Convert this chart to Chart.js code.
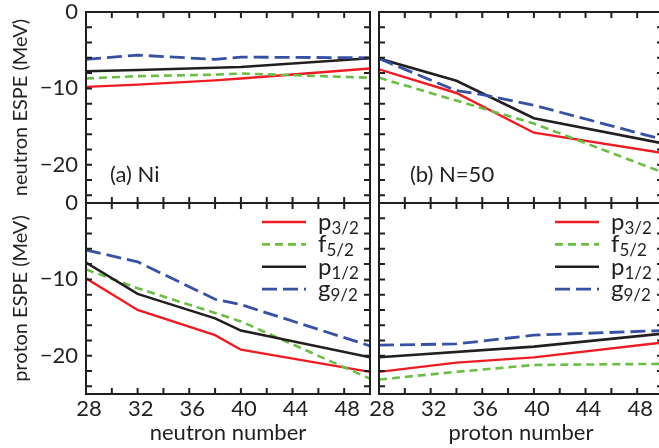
<!DOCTYPE html>
<html lang="en">
<head>
    <meta charset="UTF-8">
    <title>ESPE Ni / N=50</title>
    <script src="https://cdn.jsdelivr.net/npm/chart.js@4.4.1/dist/chart.umd.min.js"></script>
    <style>
        html, body {
            margin: 0;
            padding: 0;
            width: 659px;
            height: 448px;
            overflow: hidden;
            background: #fff;
        }
        canvas {
            position: absolute;
            left: 0;
            top: 0;
        }
    </style>
</head>
<body>
    <canvas id="panelA" width="665" height="448"></canvas>
    <canvas id="panelB" width="665" height="448"></canvas>
    <canvas id="panelC" width="665" height="448"></canvas>
    <canvas id="panelD" width="665" height="448"></canvas>

    <script>
        // nucleon number on the x axis (neutrons for Ni, protons for N=50)
        const nucleonNumber = [28, 32, 34, 36, 38, 40, 50];
        const xTicks = [28, 32, 36, 40, 44, 48];
        const yTicks = [0, -10, -20];

        // orbit names, legend order
        const orbitLetter = ['p', 'f', 'p', 'g'];
        const orbitJ = ['3/2', '5/2', '1/2', '9/2'];

        // (a) Ni, neutron ESPE (MeV) - null = no kink there, line is spanned
        const niNeutronP32 = [-9.8, -9.5, null, null, -8.95, -8.7, -7.4];
        const niNeutronF52 = [-8.7, -8.4, null, null, -8.2, -8.05, -8.6];
        const niNeutronP12 = [-7.75, -7.6, null, null, -7.3, -7.2, -6.05];
        const niNeutronG92 = [-6.2, -5.65, null, null, -6.2, -5.9, -6.0];

        // (b) N=50, neutron ESPE
        const n50NeutronP32 = [-7.5, null, -10.6, null, null, -15.8, -18.45];
        const n50NeutronF52 = [-8.6, null, null, null, null, -14.6, -21.0];
        const n50NeutronP12 = [-6.1, null, -9.0, null, null, -13.9, -17.2];
        const n50NeutronG92 = [-6.1, null, -10.3, -10.8, null, -12.2, -16.7];

        // Ni, proton ESPE
        const niProtonP32 = [-9.85, -14.0, null, null, -17.3, -19.2, -22.1];
        const niProtonF52 = [-8.7, -11.15, null, null, -14.4, -15.5, -23.0];
        const niProtonP12 = [-7.8, -11.9, null, null, -15.1, -16.7, -20.2];
        const niProtonG92 = [-6.15, -7.7, null, null, -12.6, -13.3, -18.7];

        // N=50, proton ESPE
        const n50ProtonP32 = [-22.1, null, -20.9, null, null, -20.2, -18.25];
        const n50ProtonF52 = [-23.1, null, -22.1, null, null, -21.2, -21.05];
        const n50ProtonP12 = [-20.2, null, null, null, null, -18.8, -17.1];
        const n50ProtonG92 = [-18.6, null, -18.45, null, null, -17.3, -16.7];

        const ink = '#231f20';
        const fontName = 'Lato';
        const lineStyle = [
            { color: '#ed1c24', width: 2.4, dash: [] },
            { color: '#6cbd45', width: 2.6, dash: [8, 5] },
            { color: '#231f20', width: 2.6, dash: [] },
            { color: '#3651a3', width: 2.8, dash: [15, 6] }
        ];

        function minus(v) {
            return v < 0 ? '\u2212' + Math.abs(v) : String(v);
        }

        // frame + inward ticks, panel tag and legend
        const decor = {
            id: 'decor',
            afterDatasetsDraw(chart, args, o) {
                const { ctx, chartArea: a, scales: { x, y } } = chart;
                ctx.save();
                ctx.strokeStyle = ink;
                ctx.lineWidth = 2;
                ctx.setLineDash([]);
                ctx.strokeRect(a.left, a.top, a.right - a.left, a.bottom - a.top);
                ctx.beginPath();
                for (let v = x.min + 2; v < x.max; v += 2) {
                    const px = x.getPixelForValue(v);
                    ctx.moveTo(px, a.top); ctx.lineTo(px, a.top + 6);
                    ctx.moveTo(px, a.bottom); ctx.lineTo(px, a.bottom - 6);
                }
                for (let v = y.min + 1; v < y.max; v += 2) {
                    const py = y.getPixelForValue(v);
                    ctx.moveTo(a.left, py); ctx.lineTo(a.left + 6, py);
                    ctx.moveTo(a.right, py); ctx.lineTo(a.right - 6, py);
                }
                ctx.stroke();

                ctx.fillStyle = ink;
                ctx.textBaseline = 'alphabetic';
                if (o.tag) {
                    ctx.font = '22px ' + fontName;
                    ctx.fillText(o.tag, a.left + o.tagX, a.top + 170);
                }
                if (o.legend) {
                    orbitLetter.forEach((letter, i) => {
                        const ly = a.top + 19 + i * 22.4;
                        const st = lineStyle[i];
                        ctx.beginPath();
                        ctx.strokeStyle = st.color;
                        ctx.lineWidth = st.width;
                        ctx.setLineDash(st.dash);
                        ctx.moveTo(a.right - 108, ly);
                        ctx.lineTo(a.right - 64, ly);
                        ctx.stroke();
                        ctx.setLineDash([]);
                        ctx.font = '24px ' + fontName;
                        ctx.fillText(letter, a.right - 52, ly + 8);
                        const w = ctx.measureText(letter).width;
                        ctx.font = '17px ' + fontName;
                        ctx.fillText(orbitJ[i], a.right - 52 + w, ly + 12);
                    });
                }
                ctx.restore();
            }
        };

        function panel(id, series, o) {
            const font = { family: fontName, size: 22 };
            const titleFont = { family: fontName, size: 20 };
            return new Chart(document.getElementById(id), {
                type: 'line',
                data: {
                    labels: nucleonNumber,
                    datasets: series.map((s, i) => ({
                        data: nucleonNumber.map((n, k) => ({ x: n, y: s[k] })),
                        borderColor: lineStyle[i].color,
                        borderWidth: lineStyle[i].width,
                        borderDash: lineStyle[i].dash,
                        pointRadius: 0,
                        tension: 0,
                        spanGaps: true,
                        fill: false
                    })).reverse()
                },
                plugins: [decor],
                options: {
                    responsive: false,
                    animation: false,
                    events: [],
                    layout: { padding: o.pad },
                    plugins: {
                        legend: { display: false },
                        tooltip: { enabled: false },
                        decor: { tag: o.tag, tagX: o.tagX, legend: o.legend }
                    },
                    scales: {
                        x: {
                            type: 'linear',
                            min: 28,
                            max: 50,
                            grid: { display: false, drawTicks: false },
                            border: { display: false },
                            afterBuildTicks: s => { s.ticks = xTicks.map(v => ({ value: v })); },
                            afterFit: s => { s.height = o.xH; s.paddingLeft = 0; s.paddingRight = 0; },
                            ticks: {
                                display: !!o.xTitle,
                                color: ink,
                                font: font,
                                padding: 2,
                                labelOffset: 3,
                                maxRotation: 0,
                                autoSkip: false
                            },
                            title: {
                                display: !!o.xTitle,
                                text: o.xTitle,
                                color: ink,
                                font: font,
                                padding: { top: 0, bottom: 2 }
                            }
                        },
                        y: {
                            min: -25,
                            max: 0,
                            grid: { display: false, drawTicks: false },
                            border: { display: false },
                            afterBuildTicks: s => { s.ticks = yTicks.map(v => ({ value: v })); },
                            afterFit: s => { s.width = o.yW; s.paddingTop = 0; s.paddingBottom = 0; },
                            ticks: {
                                display: !!o.yTitle,
                                color: ink,
                                font: font,
                                padding: 8,
                                callback: v => minus(v)
                            },
                            title: {
                                display: !!o.yTitle,
                                text: o.yTitle,
                                color: ink,
                                font: titleFont,
                                padding: { top: 9, bottom: 0 }
                            }
                        }
                    }
                }
            });
        }

        window.onload = function() {
            panel('panelA', [niNeutronP32, niNeutronF52, niNeutronP12, niNeutronG92], {
                pad: { left: 0, top: 12, right: 295, bottom: 245 },
                yW: 86, xH: 0, yTitle: 'neutron ESPE (MeV)', tag: '(a) Ni', tagX: 24
            });
            panel('panelB', [n50NeutronP32, n50NeutronF52, n50NeutronP12, n50NeutronG92], {
                pad: { left: 379, top: 12, right: 2, bottom: 245 },
                yW: 0, xH: 0, tag: '(b) N=50', tagX: 31
            });
            panel('panelC', [niProtonP32, niProtonF52, niProtonP12, niProtonG92], {
                pad: { left: 0, top: 203, right: 295, bottom: 0 },
                yW: 86, xH: 54, yTitle: 'proton ESPE (MeV)', xTitle: 'neutron number', legend: true
            });
            panel('panelD', [n50ProtonP32, n50ProtonF52, n50ProtonP12, n50ProtonG92], {
                pad: { left: 379, top: 203, right: 2, bottom: 0 },
                yW: 0, xH: 54, xTitle: 'proton number', legend: true
            });
        };
    </script>
</body>
</html>
